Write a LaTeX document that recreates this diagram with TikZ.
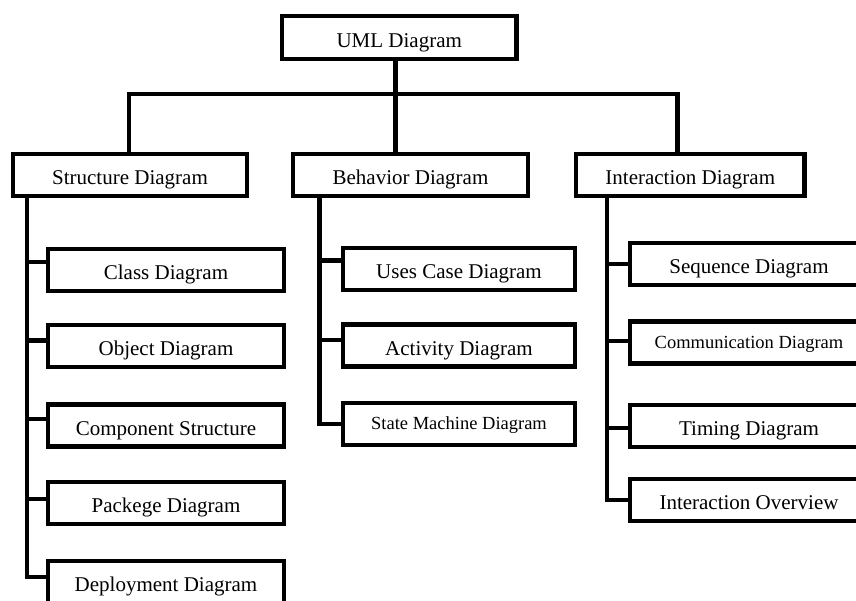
\documentclass[tikz,border=0pt]{standalone}
\usepackage{fontspec}
\setmainfont{Liberation Serif}
\begin{document}
\begin{tikzpicture}[x=1pt,y=-1pt,
  box/.style={draw=black,line width=4.2pt,fill=white,inner sep=0pt,
    minimum height=42pt,text height=19pt,text depth=0pt,
    font=\fontsize{21}{25}\selectfont},
  smallbox/.style={box,text height=12pt,font=\fontsize{18.5}{22}\selectfont},
  conn/.style={draw=black,line width=4.2pt}]
\useasboundingbox (0,0) rectangle (856,600);
\fill[white] (0,0) rectangle (856,600);
\clip (0,0) rectangle (856,600);

% root and the three families
\node[box,minimum width=234.5pt,minimum height=43pt] (uml) at (399.25,37.5) {UML Diagram};
\node[box,minimum width=234pt] (struct) at (130,174.75) {Structure Diagram};
\node[box,minimum width=235pt] (behav) at (410.5,174.75) {Behavior Diagram};
\node[box,minimum width=228.5pt] (inter) at (690.25,174.75) {Interaction Diagram};

% bus joining the root to the families
\coordinate (jL) at (129,94);
\coordinate (jM) at (395.5,94);
\coordinate (jR) at (677.5,94);
\draw[conn] (struct.north -| jL) -- (jL) -- (jR) -- (inter.north -| jR);
\draw[conn] (uml.south -| jM) -- (behav.north -| jM);

% structure diagrams
\node[box,minimum width=236pt] (cls)  at (166,269.75) {Class Diagram};
\node[box,minimum width=236pt] (obj)  at (166,345.75) {Object Diagram};
\node[box,minimum width=236pt] (comp) at (166,425.5) {Component Structure};
\node[box,minimum width=236pt] (pkg)  at (166,503) {Packege Diagram};
\node[box,minimum width=236pt] (dep)  at (166,582) {Deployment Diagram};
\coordinate (sT) at (27,0);
\draw[conn] (struct.south -| sT) |- ([yshift=7.75pt]cls.west);
\draw[conn] (struct.south -| sT) |- ([yshift=5.25pt]obj.west);
\draw[conn] (struct.south -| sT) |- ([yshift=6.5pt]comp.west);
\draw[conn] (struct.south -| sT) |- ([yshift=4pt]pkg.west);
\draw[conn] (struct.south -| sT) |- ([yshift=5pt]dep.west);

% behavior diagrams
\node[box,minimum width=232pt] (use) at (459,268.75) {Uses Case Diagram};
\node[box,minimum width=232pt] (act) at (459,345.5) {Activity Diagram};
\node[smallbox,minimum width=232pt] (sm) at (459,423.75) {State Machine Diagram};
\coordinate (bT) at (319.5,0);
\draw[conn] (behav.south -| bT) |- ([yshift=8.25pt]use.west);
\draw[conn] (behav.south -| bT) |- ([yshift=5.5pt]act.west);
\draw[conn] (behav.south -| bT) |- (sm.west);

% interaction diagrams
\node[box,minimum width=238pt] (seq) at (749,264) {Sequence Diagram};
\node[smallbox,minimum width=238pt] (comm) at (749,342.5) {Communication Diagram};
\node[box,minimum width=238pt] (tim) at (749,426.25) {Timing Diagram};
\node[box,minimum width=238pt] (ov) at (749,500) {Interaction Overview};
\coordinate (iT) at (607,0);
\draw[conn] (inter.south -| iT) |- (seq.west);
\draw[conn] (inter.south -| iT) |- ([yshift=1.5pt]comm.west);
\draw[conn] (inter.south -| iT) |- ([yshift=-1.75pt]tim.west);
\draw[conn] (inter.south -| iT) |- (ov.west);
\end{tikzpicture}
\end{document}
